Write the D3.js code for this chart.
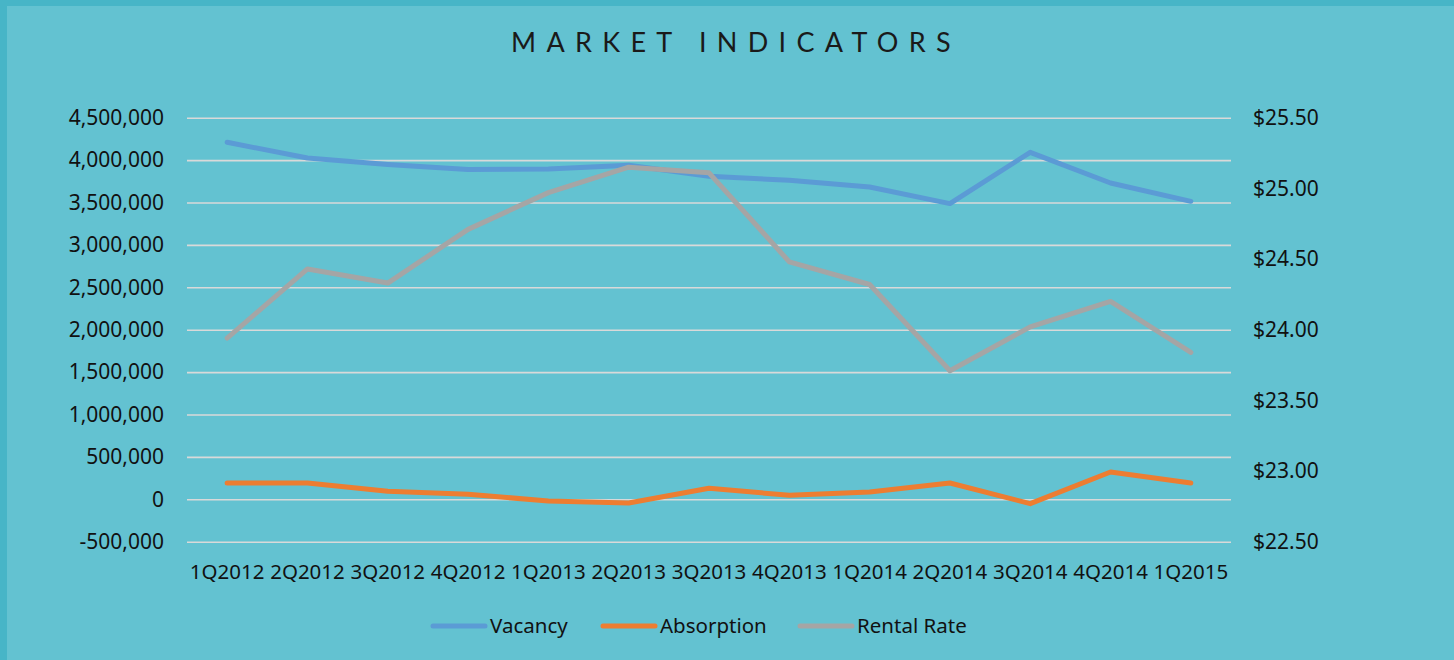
<!DOCTYPE html>
<html>
<head>
<meta charset="utf-8">
<script src="https://cdn.jsdelivr.net/npm/d3@7"></script>
<style>
  html, body { margin: 0; padding: 0; background: #63c2d1; }
  svg { display: block; }
</style>
</head>
<body>
<div id="container"></div>
<script>
/* DATA */
const quarters = ["1Q2012", "2Q2012", "3Q2012", "4Q2012", "1Q2013", "2Q2013", "3Q2013",
                  "4Q2013", "1Q2014", "2Q2014", "3Q2014", "4Q2014", "1Q2015"];
const vacancy = [4210000, 4025000, 3947000, 3888000, 3895000, 3939000, 3809000,
                 3762000, 3683000, 3487000, 4092000, 3730000, 3514000];
const absorption = [192000, 192000, 94000, 59000, -20000, -43000, 130000,
                    47000, 86000, 192000, -51000, 322000, 192000];
const rentalRate = [23.94, 24.43, 24.33, 24.71, 24.97, 25.15, 25.11,
                    24.48, 24.32, 23.71, 24.02, 24.20, 23.84];
const leftTicks = [-500000, 0, 500000, 1000000, 1500000, 2000000, 2500000,
                   3000000, 3500000, 4000000, 4500000];
const rightTicks = [22.5, 23, 23.5, 24, 24.5, 25, 25.5];
const seriesNames = ["Vacancy", "Absorption", "Rental Rate"];

/* CONSTANTS */
const width = 1454, height = 660;
const plot = {left: 187, right: 1231, top: 117.7, bottom: 541.7};
const colors = {"Vacancy": "#5b9bd5", "Absorption": "#ed7d31", "Rental Rate": "#a5a5a5"};
const font = "'Noto Sans', 'Open Sans', sans-serif";

const svg = d3.select("#container")
  .append("svg")
  .attr("width", width)
  .attr("height", height);

// background with darker frame strips
svg.append("rect").attr("width", width).attr("height", height).attr("fill", "#47b5c7");
svg.append("rect").attr("x", 7).attr("y", 6).attr("width", width - 7).attr("height", height - 6)
  .attr("fill", "#63c2d1");

/* SCALES */
const xScale = d3.scaleBand()
  .domain(quarters)
  .range([plot.left, plot.right]);

const yLeft = d3.scaleLinear()
  .domain([-500000, 4500000])
  .range([plot.bottom, plot.top]);

const yRight = d3.scaleLinear()
  .domain([22.5, 25.5])
  .range([plot.bottom, plot.top]);

const xc = d => xScale(d) + xScale.bandwidth() / 2;
const fmtLeft = d => d3.format(",")(d).replace("\u2212", "-");

/* TITLE */
svg.append("text")
  .attr("x", 736)
  .attr("y", 52)
  .attr("text-anchor", "middle")
  .attr("font-family", "Lato, 'Noto Sans', sans-serif")
  .attr("font-weight", 400)
  .attr("font-size", 27)
  .attr("letter-spacing", 10.3)
  .attr("fill", "#1a1a1a")
  .text("MARKET INDICATORS");

/* AXES */
const gLeft = svg.append("g")
  .attr("transform", `translate(${plot.left},0)`)
  .call(d3.axisLeft(yLeft).tickValues(leftTicks).tickFormat(fmtLeft).tickSize(-(plot.right - plot.left)).tickPadding(23));
gLeft.select(".domain").remove();
gLeft.selectAll(".tick line").attr("stroke", "#d9d9d9").attr("stroke-width", 1.6);
gLeft.selectAll(".tick text").attr("font-family", font).attr("font-size", 21).attr("fill", "#111");

const gRight = svg.append("g")
  .attr("transform", `translate(${plot.right},0)`)
  .call(d3.axisRight(yRight).tickValues(rightTicks).tickFormat(d => "$" + d3.format(".2f")(d)).tickSize(0).tickPadding(22));
gRight.select(".domain").remove();
gRight.selectAll(".tick text").attr("font-family", font).attr("font-size", 21).attr("fill", "#111");

const gBottom = svg.append("g")
  .attr("transform", `translate(0,${plot.bottom})`)
  .call(d3.axisBottom(xScale).tickSize(0).tickPadding(23));
gBottom.select(".domain").remove();
gBottom.selectAll(".tick text").attr("font-family", font).attr("font-size", 20.5).attr("fill", "#111");

/* LINES */
const lineLeft = d3.line().x((d, i) => xc(quarters[i])).y(d => yLeft(d));
const lineRight = d3.line().x((d, i) => xc(quarters[i])).y(d => yRight(d));

svg.append("path")
  .datum(vacancy)
  .attr("d", lineLeft)
  .attr("fill", "none")
  .attr("stroke", colors["Vacancy"])
  .attr("stroke-width", 5)
  .attr("stroke-linecap", "round")
  .attr("stroke-linejoin", "round");

svg.append("path")
  .datum(absorption)
  .attr("d", lineLeft)
  .attr("fill", "none")
  .attr("stroke", colors["Absorption"])
  .attr("stroke-width", 5)
  .attr("stroke-linecap", "round")
  .attr("stroke-linejoin", "round");

svg.append("path")
  .datum(rentalRate)
  .attr("d", lineRight)
  .attr("fill", "none")
  .attr("stroke", colors["Rental Rate"])
  .attr("stroke-width", 5)
  .attr("stroke-linecap", "round")
  .attr("stroke-linejoin", "round");

/* LEGEND */
const legendX = [433, 603, 800];
const legend = svg.append("g")
  .selectAll("g")
  .data(seriesNames)
  .join("g")
  .attr("transform", (d, i) => `translate(${legendX[i]},626)`);

legend.append("line")
  .attr("x1", 0).attr("x2", 52)
  .attr("stroke", d => colors[d])
  .attr("stroke-width", 5)
  .attr("stroke-linecap", "round");

legend.append("text")
  .attr("x", 57)
  .attr("dy", "0.35em")
  .attr("font-family", font)
  .attr("font-size", 20.5)
  .attr("fill", "#111")
  .text(d => d);
</script>
</body>
</html>
